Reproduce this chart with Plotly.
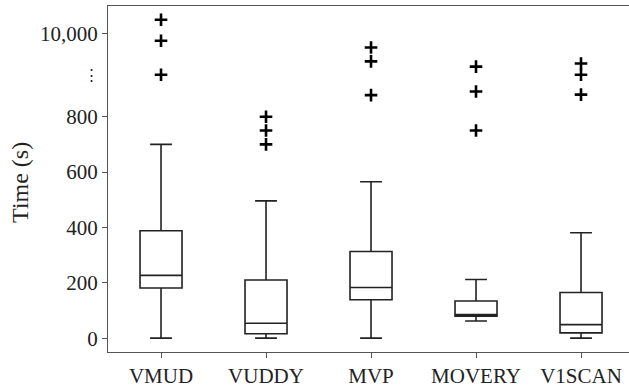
import numpy as np
import plotly.graph_objects as go

# ---- data ----
tools = ["VMUD", "VUDDY", "MVP", "MOVERY", "V1SCAN"]
lower_whisker = [0, 0, 0, 62, 0]
q1 = [181, 16, 139, 79, 19]
median = [227, 54, 183, 85, 49]
q3 = [388, 210, 313, 134, 165]
upper_whisker = [700, 496, 565, 212, 381]
outliers = {
    "VMUD": [17800, 7200, 1670],
    "VUDDY": [800, 750, 700],
    "MVP": [5400, 2970, 878],
    "MOVERY": [2370, 891, 750],
    "V1SCAN": [2700, 1670, 880],
}
ytick_values = [0, 200, 400, 600, 800, 10000]
ytick_labels = ["0", "200", "400", "600", "800", "10,000"]
break_value = 1670  # where the "⋮" marker sits

# ---- broken-axis transform: linear to 900, compressed (log) above ----
LIN_MAX = 900.0
K = 193.0


def to_axis(v):
    v = np.asarray(v, dtype=float)
    return np.where(v <= LIN_MAX, v, LIN_MAX + K * np.log10(np.maximum(v, 1) / LIN_MAX))


FONT = "Liberation Serif"
fig = go.Figure()

for i, t in enumerate(tools):
    fig.add_trace(go.Box(
        x=[i], q1=[q1[i]], median=[median[i]], q3=[q3[i]],
        lowerfence=[lower_whisker[i]], upperfence=[upper_whisker[i]],
        fillcolor="rgba(0,0,0,0)", line=dict(color="#222", width=1.6),
        width=0.4, whiskerwidth=0.52, boxpoints=False, showlegend=False,
        hoverinfo="skip",
    ))

ox, oy = [], []
for i, t in enumerate(tools):
    for v in outliers[t]:
        ox.append(i)
        oy.append(float(to_axis(v)))
fig.add_trace(go.Scatter(
    x=ox, y=oy, mode="markers", showlegend=False,
    marker=dict(symbol="cross-thin", size=9, line=dict(width=2.6, color="black"), color="black"),
))

fig.add_annotation(
    x=-0.031, xref="paper", xanchor="center", y=float(to_axis(break_value)), yref="y",
    text="⋮", showarrow=False, font=dict(family=FONT, size=15, color="#222"),
)
fig.add_annotation(
    x=-0.168, xref="paper", y=0.49, yref="paper", text="Time (s)", textangle=-90,
    showarrow=False, font=dict(family=FONT, size=24, color="#222"),
    xanchor="center", yanchor="middle",
)

fig.update_layout(
    width=629, height=388,
    margin=dict(l=108, r=0, t=6, b=34),
    plot_bgcolor="white", paper_bgcolor="white",
    font=dict(family=FONT, size=21, color="#222"),
    xaxis=dict(
        tickmode="array", tickvals=list(range(len(tools))), ticktext=tools,
        range=[-0.505, 4.457], showline=True, linecolor="#555", linewidth=1.2,
        mirror=True, ticks="outside", ticklen=5, tickcolor="#555",
        showgrid=False, zeroline=False, tickfont=dict(family=FONT, size=21),
    ),
    yaxis=dict(
        tickmode="array", tickvals=[float(v) for v in to_axis(ytick_values)],
        ticktext=ytick_labels, range=[-50, 1200], showline=True,
        linecolor="#555", linewidth=1.2, ticks="outside", ticklen=5,
        tickcolor="#555", showgrid=False, zeroline=False,
        tickfont=dict(family=FONT, size=21),
    ),
)

fig.write_html("out.html")
